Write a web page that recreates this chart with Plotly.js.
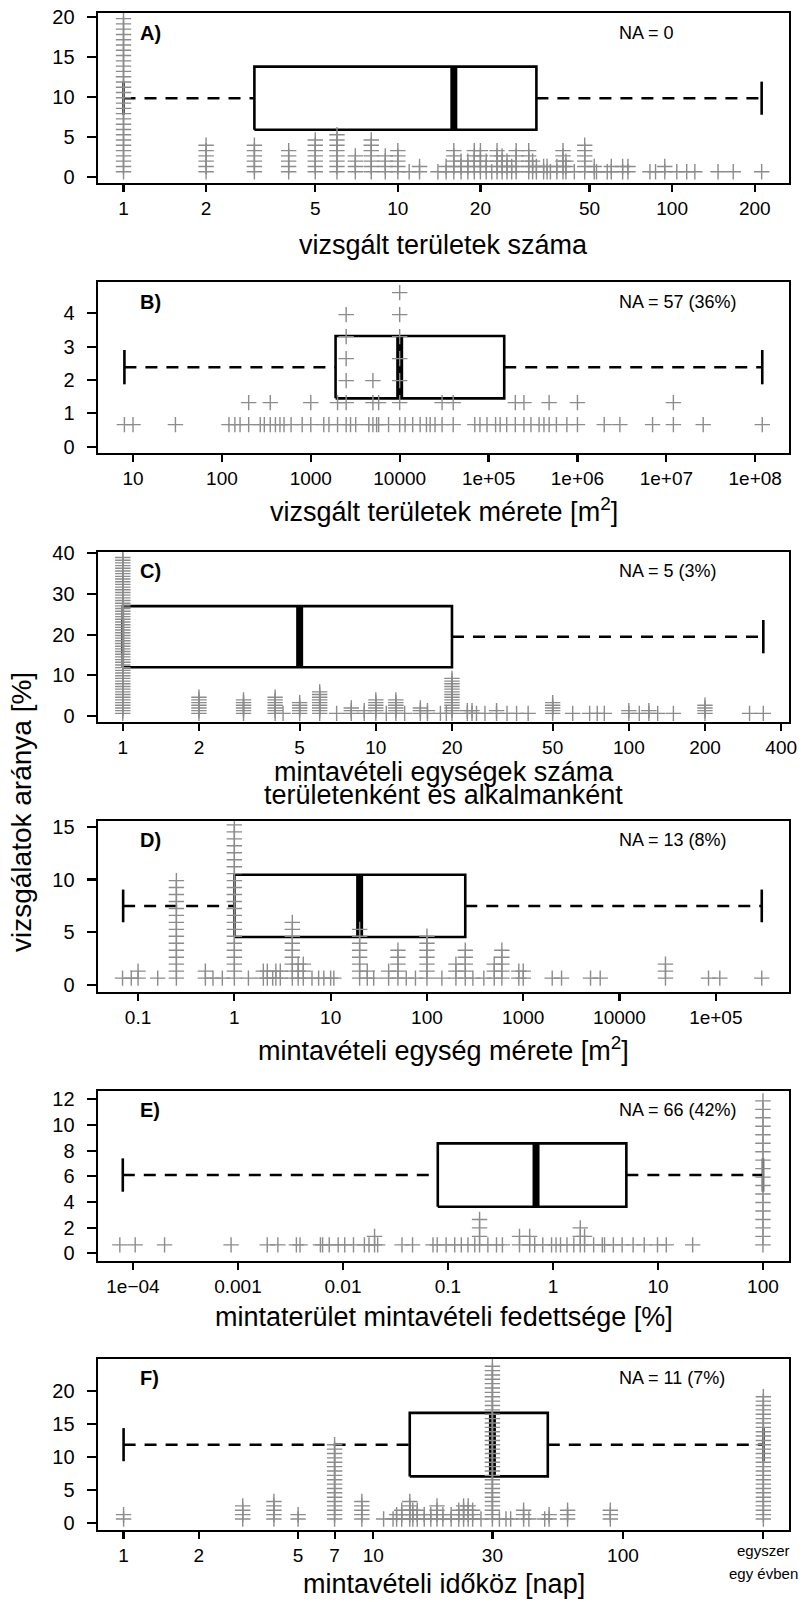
<!DOCTYPE html>
<html><head><meta charset="utf-8">
<script src="https://cdn.plot.ly/plotly-3.0.1.min.js"></script>
<style>html,body{margin:0;padding:0;background:#fff}#chart{width:807px;height:1602px}</style>
</head><body><div id="chart"></div>
<script>
// ---------------- DATA ----------------
// Each value = measured quantity; count = number of stacked study markers.
const aVals   = [1,2,3,4,5,6,7,8,9,10,11,12,14,15,16,17,18,19,20,21,22,23,24,25,26,27,30,31,32,34,35,36,38,40,41,44,48,52,53,58,60,66,69,83,87,94,104,113,121,147,167,212];
const aCounts = [30,6,6,5,7,8,4,7,4,5,1,2,1,2,5,3,3,5,5,3,1,5,4,3,2,5,5,3,2,2,2,1,2,5,3,1,6,2,1,1,2,2,2,1,1,2,1,1,1,1,1,1];

const bVals   = [8,10,30,120,140,160,200,270,300,350,400,450,500,600,800,1000,1400,1600,2000,2500,2800,3200,4500,5000,5500,5800,7500,10000,11500,14000,17000,20000,22000,25000,30000,40000,70000,80000,96000,120000,135000,160000,200000,250000,300000,370000,420000,480000,580000,760000,1000000,2000000,3000000,7000000,12000000,26000000,120000000];
const bCounts = [1,1,1,1,1,1,2,1,1,2,1,1,1,1,1,2,1,1,2,6,1,1,1,3,1,2,1,7,1,1,1,1,1,1,2,2,1,1,1,1,1,1,2,2,1,1,1,2,1,1,2,1,1,1,2,1,1];

const cVals   = [1,2,3,4,4.3,5,6,7,8,9,10,11,12,13,15,16,18,19,20,23,24,25,27,30,33,36,40,50,60,70,75,80,100,110,120,130,150,200,300,340];
const cCounts = [59,7,6,7,1,5,9,1,3,2,6,1,6,1,3,2,1,1,14,2,2,1,1,2,1,1,1,5,1,1,1,1,2,1,2,1,1,4,1,1];

const dVals   = [0.069,0.085,0.1,0.16,0.25,0.5,0.6,0.75,1,1.4,2,2.2,2.5,2.7,3,4,4.6,5.2,6.4,7.5,8.5,10,10.8,20,24,28,40,50,61,76,100,143,200,250,300,390,500,600,900,1000,2000,2500,5000,6300,30000,84000,110000,300000];
const dCounts = [1,1,2,1,15,2,1,1,23,1,2,2,1,2,2,9,3,3,1,1,1,1,1,8,2,1,2,5,1,1,7,1,3,5,1,1,3,5,2,2,1,1,1,1,3,1,1,1];

const eVals   = [7.5e-5,1.05e-4,2e-4,8.6e-4,0.0019,0.0024,0.0036,0.0039,0.0061,0.0064,0.0074,0.009,0.0104,0.0126,0.016,0.0177,0.02,0.0214,0.0365,0.046,0.072,0.079,0.096,0.116,0.134,0.155,0.18,0.2,0.24,0.29,0.33,0.48,0.6,0.67,0.8,0.97,1.07,1.18,1.36,1.58,1.82,2.0,2.44,2.95,3.1,3.76,4.56,5.8,7.4,9.9,12,21.4,100];
const eCounts = [1,1,1,1,1,1,1,1,1,1,1,1,1,1,1,1,2,1,1,1,1,1,1,1,1,1,1,4,1,1,1,2,2,1,1,1,1,1,1,1,3,2,1,1,1,1,1,1,1,1,1,1,18];

const fVals   = [1,3,4,5,7,9,11,12,12.4,13,14,14.4,15,16,17,18,19,20.5,22,23,24,25,27,30,32,34,35.5,40,42,48.6,50.6,60,89,365];
const fCounts = [2,4,5,2,18,5,1,1,2,3,5,3,3,2,2,4,2,2,3,4,4,3,1,36,1,1,1,3,1,1,2,3,3,29];

// box statistics: [lower whisker, Q1, median, Q3, upper whisker]
const aBox = [1, 3, 16, 32, 212];
const bBox = [8, 1900, 10000, 150000, 1.2e8];
const cBox = [1, 1, 5, 20, 340];
const dBox = [0.07, 1, 20, 250, 3e5];
const eBox = [8e-5, 0.08, 0.69, 5, 100];
const fBox = [1, 14, 30, 50, 365];

// tick labels
const aTicks = [1,2,5,10,20,50,100,200];
const aTickText = ["1","2","5","10","20","50","100","200"];
const bTicks = [10,100,1000,10000,1e5,1e6,1e7,1e8];
const bTickText = ["10","100","1000","10000","1e+05","1e+06","1e+07","1e+08"];
const cTicks = [1,2,5,10,20,50,100,200,400];
const cTickText = ["1","2","5","10","20","50","100","200","400"];
const dTicks = [0.1,1,10,100,1000,10000,1e5];
const dTickText = ["0.1","1","10","100","1000","10000","1e+05"];
const eTicks = [1e-4,0.001,0.01,0.1,1,10,100];
const eTickText = ["1e\u221204","0.001","0.01","0.1","1","10","100"];
const fTicks = [1,2,5,7,10,30,100,365];
const fTickText = ["1","2","5","7","10","30","100",""];
const fYearLabel = ["egyszer","egy évben"];   // label of the 365-day tick

const yTicksA = [0,5,10,15,20];
const yTicksB = [0,1,2,3,4];
const yTicksC = [0,10,20,30,40];
const yTicksD = [0,5,10,15];
const yTicksE = [0,2,4,6,8,10,12];
const yTicksF = [0,5,10,15,20];

const panelLetters = ["A)","B)","C)","D)","E)","F)"];
const naLabels = ["NA = 0","NA = 57 (36%)","NA = 5 (3%)","NA = 13 (8%)","NA = 66 (42%)","NA = 11 (7%)"];
const xTitles = ["vizsgált területek száma","vizsgált területek mérete [m<sup>2</sup>]",
  "mintavételi egységek száma","mintavételi egység mérete [m<sup>2</sup>]",
  "mintaterület mintavételi fedettsége [%]","mintavételi időköz [nap]"];
const xTitleC2 = "területenként és alkalmanként";
const yTitle = "vizsgálatok aránya [%]";

// ---------------- LAYOUT / STYLE ----------------
const W = 807, H = 1602;
const FONT = "Liberation Sans, Arial, sans-serif";
const STEP = 0.66; // vertical stacking step of the study markers (% per study)
const frames = [[13,183],[282,453],[552,722],[821,992],[1091,1261],[1359,1530]]; // top,bottom px
const xRanges = [[-0.093,2.426],[0.606,8.38],[-0.098,2.633],[-1.416,5.76],[-4.333,2.248],[-0.1025,2.665]];
const yRanges = [[-0.75,20.5],[-0.19,4.94],[-1.47,40.3],[-0.66,15.55],[-0.6,12.65],[-1.0,24.85]];
// box placement: [centre, half box height, half cap height]
const boxPlace = [[9.85,3.95,2.07],[2.385,0.935,0.515],[19.5,7.5,4.1],[7.5,2.95,1.55],[6.1,2.47,1.3],[11.9,4.8,2.5]];
const letterY = [33,302,571,840,1110,1378];
const titleY = [245,510,772,1049,1317,1584];

const panels = [
  {vals:aVals,counts:aCounts,box:aBox,ticks:aTicks,tt:aTickText,yt:yTicksA},
  {vals:bVals,counts:bCounts,box:bBox,ticks:bTicks,tt:bTickText,yt:yTicksB},
  {vals:cVals,counts:cCounts,box:cBox,ticks:cTicks,tt:cTickText,yt:yTicksC},
  {vals:dVals,counts:dCounts,box:dBox,ticks:dTicks,tt:dTickText,yt:yTicksD},
  {vals:eVals,counts:eCounts,box:eBox,ticks:eTicks,tt:eTickText,yt:yTicksE},
  {vals:fVals,counts:fCounts,box:fBox,ticks:fTicks,tt:fTickText,yt:yTicksF}
];

const traces = [];
const layout = {
  width: W, height: H, margin:{l:0,r:0,t:0,b:0},
  paper_bgcolor:"#fff", plot_bgcolor:"#fff", showlegend:false,
  font:{family:FONT,color:"#000"}, annotations:[]
};
const xDom = [98/W, 789/W];

panels.forEach((p,i)=>{
  const n = i+1, xa = "x"+(n===1?"":n), ya = "y"+(n===1?"":n);
  const [wlo,q1,med,q3,whi] = p.box;
  const [yc,bh,ch] = boxPlace[i];
  const line = {color:"#000",width:2.6};
  // box
  traces.push({type:"scatter",mode:"lines",xaxis:xa,yaxis:ya,
    x:[q1,q3,q3,q1,q1],y:[yc-bh,yc-bh,yc+bh,yc+bh,yc-bh],
    fill:"toself",fillcolor:"#fff",line:line,hoverinfo:"skip"});
  // whiskers
  traces.push({type:"scatter",mode:"lines",xaxis:xa,yaxis:ya,
    x:[wlo,q1,null,q3,whi],y:[yc,yc,null,yc,yc],
    line:{color:"#000",width:2.5,dash:"12px,9px"},hoverinfo:"skip"});
  // caps
  traces.push({type:"scatter",mode:"lines",xaxis:xa,yaxis:ya,
    x:[wlo,wlo,null,whi,whi],y:[yc-ch,yc+ch,null,yc-ch,yc+ch],
    line:line,hoverinfo:"skip"});
  // median
  traces.push({type:"scatter",mode:"lines",xaxis:xa,yaxis:ya,
    x:[med,med],y:[yc-bh,yc+bh],line:{color:"#000",width:7},hoverinfo:"skip"});
  // stacked markers
  const mx=[], my=[];
  p.vals.forEach((v,j)=>{ for(let k=1;k<=p.counts[j];k++){ mx.push(v); my.push(k*STEP); } });
  traces.push({type:"scatter",mode:"markers",xaxis:xa,yaxis:ya,x:mx,y:my,
    marker:{symbol:"cross-thin",size:11,color:"#8c8c8c",line:{color:"#8c8c8c",width:1.4}},hoverinfo:"skip"});

  const [top,bot] = frames[i];
  layout["xaxis"+(n===1?"":n)] = {
    type:"log", range:xRanges[i], domain:xDom, anchor:ya,
    tickmode:"array", tickvals:p.ticks, ticktext:p.tt,
    ticks:"outside", ticklen:7, tickwidth:2.2, tickcolor:"#000",
    showline:true, mirror:true, linewidth:2.4, linecolor:"#000",
    showgrid:false, zeroline:false, tickfont:{size:19,family:FONT,color:"#000"},
    ticklabelstandoff:0, fixedrange:true
  };
  layout["yaxis"+(n===1?"":n)] = {
    range:yRanges[i], domain:[1-bot/H, 1-top/H], anchor:xa,
    tickmode:"array", tickvals:p.yt,
    ticks:"outside", ticklen:9, tickwidth:2.2, tickcolor:"#000",
    showline:true, mirror:true, linewidth:2.4, linecolor:"#000",
    showgrid:false, zeroline:false, tickfont:{size:20,family:FONT,color:"#000"},
    ticklabelstandoff:8, fixedrange:true
  };
  // panel letter
  layout.annotations.push({xref:xa+" domain",yref:"paper",x:(138-98)/691,y:1-letterY[i]/H,
    xanchor:"left",yanchor:"middle",showarrow:false,text:"<b>"+panelLetters[i]+"</b>",
    font:{size:20,family:FONT,color:"#000"}});
  // NA label
  layout.annotations.push({xref:xa+" domain",yref:"paper",x:(617-98)/691,y:1-letterY[i]/H,
    xanchor:"left",yanchor:"middle",showarrow:false,text:naLabels[i],
    font:{size:18,family:FONT,color:"#000"}});
  // x-axis title
  layout.annotations.push({xref:"paper",yref:"paper",x:443.5/W,y:1-titleY[i]/H,
    xanchor:"center",yanchor:"middle",showarrow:false,text:xTitles[i],
    font:{size:27,family:FONT,color:"#000"}});
});
layout.annotations.push({xref:"paper",yref:"paper",x:443.5/W,y:1-795/H,
  xanchor:"center",yanchor:"middle",showarrow:false,text:xTitleC2,
  font:{size:27,family:FONT,color:"#000"}});
// two-line label of the 365-day tick on panel F (placed at the tick's own x)
fYearLabel.forEach((t,k)=>{
  layout.annotations.push({xref:"x6",yref:"paper",x:Math.log10(fTicks[7]),y:1-(1550+k*23)/H,
    xanchor:"center",yanchor:"middle",showarrow:false,text:t,
    font:{size:15,family:FONT,color:"#000"}});
});
layout.annotations.push({xref:"paper",yref:"paper",x:21/W,y:1-812/H,
  xanchor:"center",yanchor:"middle",showarrow:false,text:yTitle,textangle:-90,
  font:{size:28,family:FONT,color:"#000"}});

Plotly.newPlot("chart", traces, layout, {staticPlot:true, displayModeBar:false});
</script></body></html>
